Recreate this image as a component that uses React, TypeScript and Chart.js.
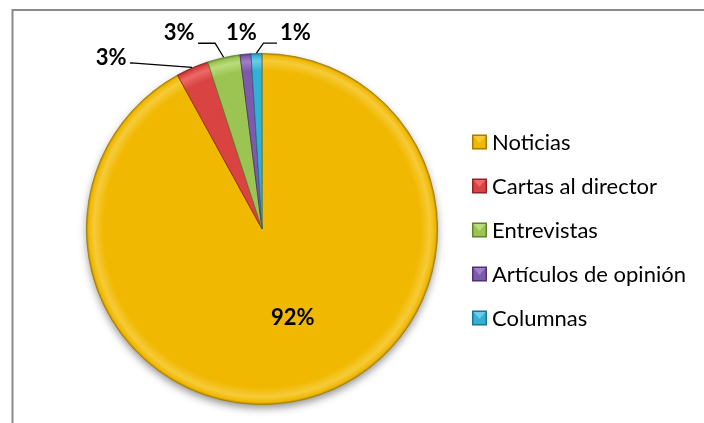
import React, { useEffect, useRef } from 'react';
import { Chart, registerables } from 'chart.js';

Chart.register(...registerables);

const categories = ['Noticias', 'Cartas al director', 'Entrevistas', 'Artículos de opinión', 'Columnas'];
const values = [92, 3, 3, 1, 1];
const percentLabels = ['92%', '3%', '3%', '1%', '1%'];

const baseColors = ['#F0B800', '#D94341', '#9CC452', '#7F5AAA', '#33B0D6'];
const lightColors = ['#F6CB3A', '#EC6A68', '#BBDD7C', '#A07FC8', '#6FCBE8'];
const edgeColors = ['#A57C00', '#8E2523', '#62822E', '#4C3274', '#1B7492'];

const FONT = 'Lato, "Noto Sans", sans-serif';

// label offsets relative to the arc's outer edge at mid-angle, leader knees relative to label centre
const labelLayout = [
  { dx: -13, dy: -81.5, leader: null as null | number[][] },
  { dx: -81, dy: -9.5, leader: [[20, 5], [19, 5]] },
  { dx: -44.5, dy: -24, leader: [[36, 10], [19, 10]] },
  { dx: -4, dy: -21, leader: null },
  { dx: 39, dy: -20, leader: [[-32, 10], [-18.5, 10]] },
];

function geom(chart: any) {
  const a = chart.chartArea;
  const cx = (a.left + a.right) / 2;
  const cy = (a.top + a.bottom) / 2;
  const r = Math.min(a.right - a.left, a.bottom - a.top) / 2;
  return { cx, cy, r };
}

const decorPlugin = {
  id: 'decor',
  beforeDraw(chart: any) {
    const ctx = chart.ctx;
    ctx.save();
    ctx.strokeStyle = '#8a8a8a';
    ctx.lineWidth = 2;
    ctx.beginPath();
    ctx.moveTo(12.5, chart.height + 5);
    ctx.lineTo(12.5, 10);
    ctx.lineTo(chart.width + 5, 10);
    ctx.stroke();
    ctx.restore();
  },
  beforeDatasetsDraw(chart: any) {
    const ctx = chart.ctx;
    const { cx, cy, r } = geom(chart);
    ctx.save();
    ctx.shadowColor = 'rgba(0,0,0,0.45)';
    ctx.shadowBlur = 8;
    ctx.shadowOffsetX = 0;
    ctx.shadowOffsetY = 4;
    ctx.fillStyle = '#9a7400';
    ctx.beginPath();
    ctx.arc(cx, cy, r - 1, 0, Math.PI * 2);
    ctx.fill();
    ctx.restore();
  },
  afterDatasetsDraw(chart: any) {
    const ctx = chart.ctx;
    const { cx, cy, r } = geom(chart);
    const meta = chart.getDatasetMeta(0);
    ctx.save();
    ctx.font = `bold 22px ${FONT}`;
    ctx.fillStyle = '#000';
    ctx.textAlign = 'center';
    ctx.textBaseline = 'middle';
    ctx.strokeStyle = '#000';
    ctx.lineWidth = 1.3;
    meta.data.forEach((arc: any, i: number) => {
      const mid = (arc.startAngle + arc.endAngle) / 2;
      const ex = cx + r * Math.cos(mid);
      const ey = cy + r * Math.sin(mid);
      const L = labelLayout[i];
      const lx = ex + L.dx;
      const ly = ey + L.dy;
      if (L.leader) {
        ctx.beginPath();
        ctx.moveTo(ex, ey);
        L.leader.forEach((p) => ctx.lineTo(lx + p[0], ly + p[1]));
        ctx.stroke();
      }
      ctx.fillText(percentLabels[i], lx, ly);
    });
    ctx.restore();

    // legend
    const lx0 = chart.chartArea.right + 34;
    const ly0 = 142;
    const step = 44;
    const s = 15;
    ctx.save();
    ctx.font = `22px ${FONT}`;
    ctx.textBaseline = 'middle';
    ctx.textAlign = 'left';
    categories.forEach((c, i) => {
      const y = ly0 + i * step;
      const x = lx0;
      const top = y - s / 2;
      ctx.fillStyle = edgeColors[i];
      ctx.fillRect(x, top, s, s);
      ctx.fillStyle = baseColors[i];
      ctx.fillRect(x + 1.5, top + 1.5, s - 3, s - 3);
      ctx.fillStyle = lightColors[i];
      ctx.beginPath();
      ctx.moveTo(x + 1.5, top + 1.5);
      ctx.lineTo(x + s - 1.5, top + 1.5);
      ctx.lineTo(x + s / 2, top + s / 2 + 1);
      ctx.closePath();
      ctx.fill();
      ctx.fillStyle = '#000';
      ctx.fillText(c, x + s + 5, y + 1);
    });
    ctx.restore();
  },
};

export default function App() {
  const ref = useRef<HTMLCanvasElement>(null);
  useEffect(() => {
    document.body.style.margin = '0';
    const canvas = ref.current!;
    const chart = new Chart(canvas, {
      type: 'pie',
      data: {
        labels: categories,
        datasets: [
          {
            data: values,
            backgroundColor: (c: any) => {
              const chart = c.chart;
              const i = c.dataIndex;
              if (!chart.chartArea || i === undefined) return baseColors[i ?? 0];
              const { cx, cy, r } = geom(chart);
              const g = chart.ctx.createRadialGradient(cx, cy, 0, cx, cy, r);
              g.addColorStop(0, baseColors[i]);
              g.addColorStop(0.9, baseColors[i]);
              g.addColorStop(0.955, lightColors[i]);
              g.addColorStop(0.985, baseColors[i]);
              g.addColorStop(1, edgeColors[i]);
              return g;
            },
            borderColor: edgeColors,
            borderWidth: 0.8,
          },
        ],
      },
      options: {
        responsive: false,
        animation: false,
        layout: { padding: { left: 86, right: 266, top: 53, bottom: 18 } },
        plugins: {
          legend: { display: false },
          tooltip: { enabled: false },
        },
      },
      plugins: [decorPlugin],
    });
    return () => chart.destroy();
  }, []);
  return (
    <div style={{ position: 'absolute', left: 0, top: 0, width: 704, height: 423, background: '#fff' }}>
      <canvas ref={ref} width={704} height={423} style={{ width: 704, height: 423, display: 'block' }} />
    </div>
  );
}
